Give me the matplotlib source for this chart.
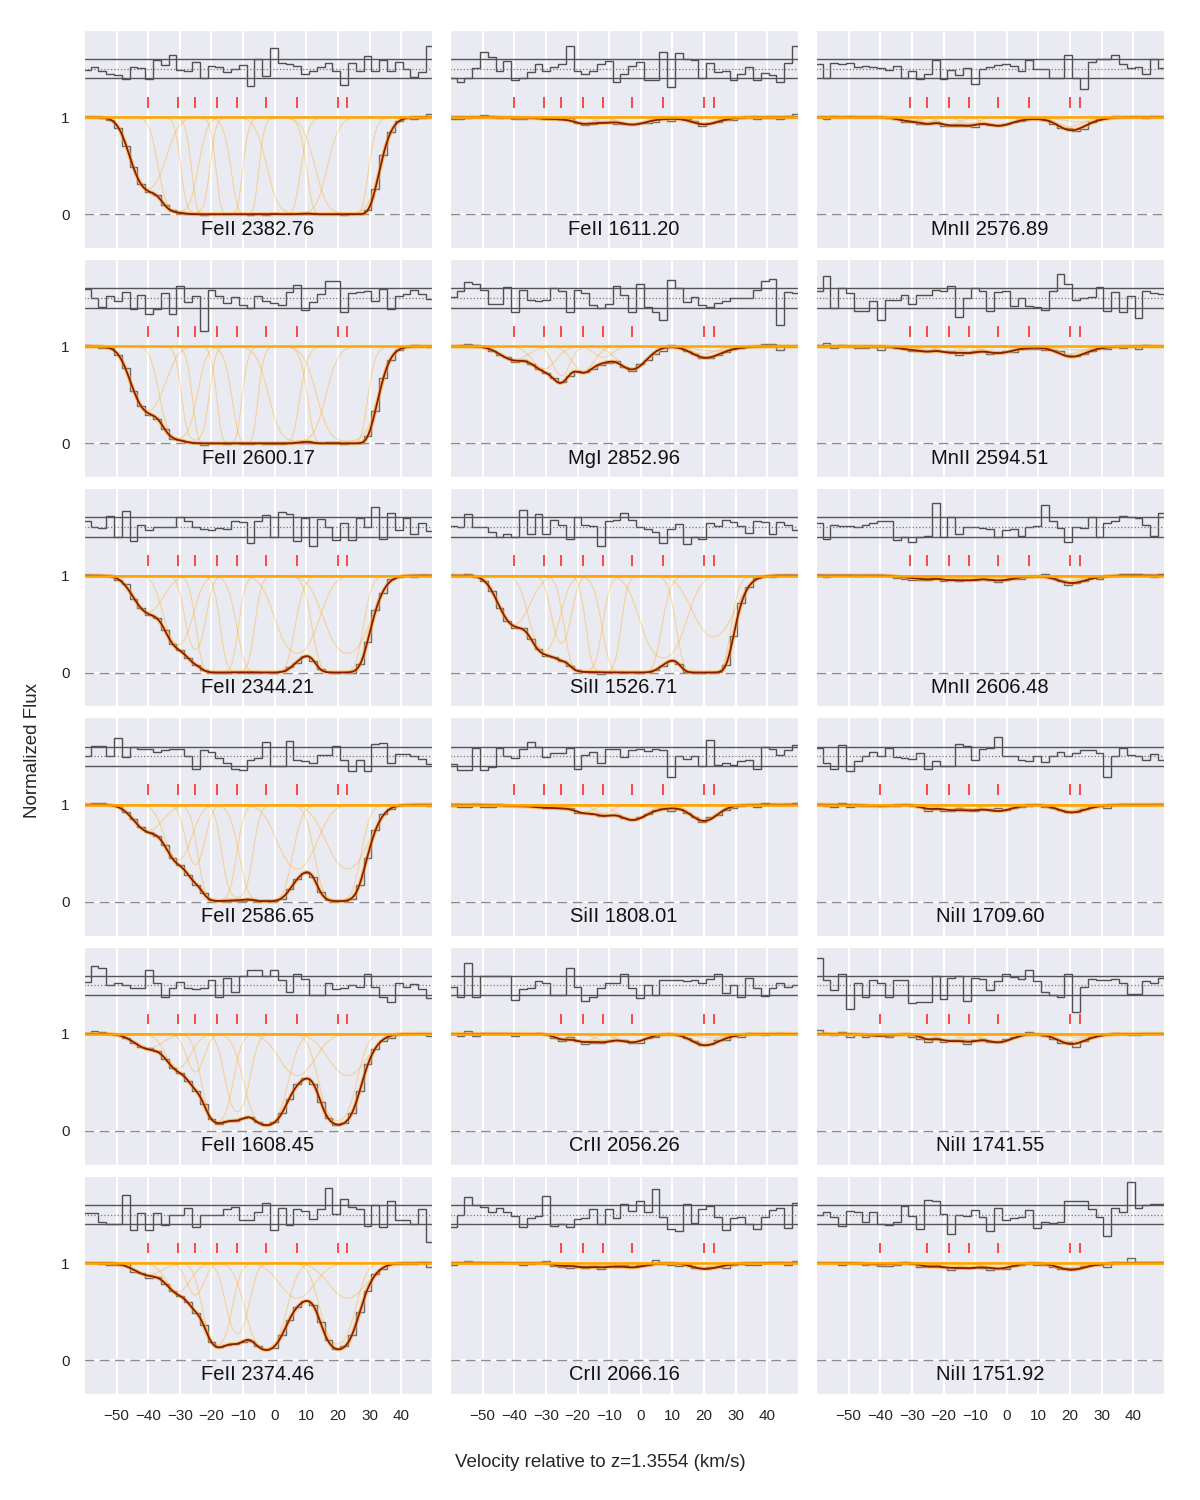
import numpy as np
import matplotlib
matplotlib.use('Agg')
import matplotlib.pyplot as plt
import seaborn as sns

sns.set_style('darkgrid')
plt.rcParams['font.family'] = ['Liberation Sans', 'DejaVu Sans']
plt.rcParams['grid.linewidth'] = 1.4

# velocity components of the fit (km/s) and their Doppler widths
comp_v = [-40.0, -30.5, -25.1, -18.2, -11.8, -2.8, 7.1, 19.9, 23.0]
comp_b = [6.0, 5.0, 3.5, 4.5, 4.0, 6.0, 7.0, 5.5, 7.5]

# central optical depth of each component, given at a reference line of each ion
tau_feii = [0.13, 0.35, 0.40, 1.90, 1.30, 2.20, 0.45, 1.80, 0.45]   # FeII 2374.46
tau_mgi = [0.15, 0.26, 0.36, 0.30, 0.12, 0.27, 0.0, 0.08, 0.05]     # MgI 2852.96
tau_mnii = [0.0, 0.04, 0.05, 0.08, 0.07, 0.09, 0.015, 0.10, 0.05]   # MnII 2576.89
tau_siii = [0.70, 1.50, 1.20, 4.50, 5.00, 9.00, 1.90, 9.00, 1.00]   # SiII 1526.71
tau_crii = [0.0, 0.0, 0.05, 0.08, 0.07, 0.09, 0.0, 0.09, 0.04]      # CrII 2056.26
tau_niii = [0.02, 0.0, 0.05, 0.07, 0.065, 0.09, 0.0, 0.08, 0.035]   # NiII 1741.55

# ion -> (component taus, reference wavelength, reference oscillator strength)
ions = {
    'FeII': (tau_feii, 2374.46, 0.0313),
    'MgI': (tau_mgi, 2852.96, 1.83),
    'MnII': (tau_mnii, 2576.89, 0.361),
    'SiII': (tau_siii, 1526.71, 0.133),
    'CrII': (tau_crii, 2056.26, 0.103),
    'NiII': (tau_niii, 1741.55, 0.0427),
}

# panels, row by row: ion, rest wavelength, oscillator strength
panel_ion = ['FeII', 'FeII', 'MnII',
             'FeII', 'MgI', 'MnII',
             'FeII', 'SiII', 'MnII',
             'FeII', 'SiII', 'NiII',
             'FeII', 'CrII', 'NiII',
             'FeII', 'CrII', 'NiII']
panel_wave = [2382.76, 1611.20, 2576.89,
              2600.17, 2852.96, 2594.51,
              2344.21, 1526.71, 2606.48,
              2586.65, 1808.01, 1709.60,
              1608.45, 2056.26, 1741.55,
              2374.46, 2066.16, 1751.92]
panel_f = [0.320, 0.0016, 0.361,
           0.239, 1.83, 0.280,
           0.114, 0.133, 0.198,
           0.0691, 0.00208, 0.0324,
           0.0577, 0.103, 0.0427,
           0.0313, 0.0512, 0.0277]

# normalised residuals (data - model) / error, per pixel, per panel
r_fe2382 = [-0.1, 0.2, -0.2, -0.5, -0.6, -1.1, 0.2, 0.1, -1.1, 0.9,
            0.4, 1.4, -0.1, -0.2, 0.7, -1.0, 0.3, 0.2, -0.3, 0.0,
            0.4, -1.8, 1.0, -0.7, 2.1, 0.6, 0.5, 0.3, -0.5, -0.2,
            0.2, 0.6, -0.2, -1.7, 0.6, -0.2, 1.3, -0.2, 0.9, -0.2,
            0.7, 0.0, -0.8, -0.3, 2.3]
r_fe1611 = [-1.0, -1.4, -0.9, 0.1, 1.7, 1.2, -0.2, 0.8, -1.2, -0.9,
            -0.3, 0.5, -0.2, 0.2, 0.5, 2.3, -0.2, -0.5, -0.2, 0.5,
            0.8, -1.4, -0.5, 0.3, 0.7, -1.2, -1.2, 1.7, -1.9, 1.6,
            1.0, 0.9, -1.0, 0.6, -0.3, -0.2, -1.2, -0.5, 0.2, -1.2,
            -0.4, -0.6, -1.4, 0.6, 2.3]
r_mn2576 = [0.5, -1.0, 0.6, 0.5, 0.6, 0.2, 0.3, 0.2, 0.1, -0.1,
            0.3, -0.9, -0.2, -1.1, -0.5, 0.9, -1.1, -0.1, -0.6, 0.1,
            -1.6, 0.0, 0.2, 0.4, 0.5, 0.3, -0.2, 0.9, 0.0, 0.0,
            -0.9, -1.0, 1.4, -0.9, -2.1, 0.7, 1.0, 1.0, 1.4, 0.5,
            0.1, 0.2, -0.5, 1.0, 0.1]
r_fe2600 = [0.9, 0.0, -0.9, 0.2, -0.3, 0.6, -1.1, 0.3, -1.7, -1.1,
            0.5, -1.7, 1.2, -0.4, 0.2, -3.4, 0.8, 0.2, -0.5, 0.1,
            -0.7, -1.0, 0.2, -0.3, -0.5, -0.7, 0.6, 1.3, -1.2, -0.4,
            0.4, 1.7, 1.7, -1.5, 0.5, 0.6, 0.7, -0.3, 0.9, -1.1,
            0.2, 0.4, 0.8, 0.4, -0.1]
r_mg2852 = [0.1, 0.7, 1.6, 1.4, 0.8, -0.6, -0.6, 1.1, -1.4, 0.8,
            -0.2, -0.3, -0.2, 1.0, 0.7, -1.5, 0.8, 0.5, -0.7, -1.0,
            -0.6, 1.2, 0.3, -1.4, 1.4, -0.9, -1.4, -2.3, 1.8, 1.0,
            -0.4, 0.1, -0.7, -0.9, -0.5, -0.3, 0.0, 0.0, 0.0, 0.8,
            1.7, 2.0, -2.8, 0.6, 0.5]
r_mn2594 = [0.7, 2.3, -1.0, 1.0, 0.5, -1.3, -1.3, -0.3, -2.3, -0.2,
            -0.2, 0.3, -0.6, 0.3, 0.3, 0.8, 0.7, 1.2, -2.0, 0.0,
            1.0, 0.7, -1.3, 0.6, 0.7, -0.8, 0.0, -0.8, -0.9, -1.2,
            0.7, 2.5, 1.4, -0.2, 0.0, 0.1, 1.1, -1.3, 0.6, -1.4,
            0.2, -2.1, 0.7, 0.5, 0.4]
r_fe2344 = [0.6, 0.0, -0.1, 1.1, -1.0, 1.7, -1.4, 0.2, -0.3, 0.0,
            0.0, 0.0, 1.0, 0.6, 0.0, -0.2, -0.3, -0.1, -0.2, 0.6,
            0.5, -1.6, 0.6, 1.2, -1.0, 1.6, 1.3, -1.4, 0.9, -2.0,
            0.8, 0.0, -1.3, 0.4, -1.3, 0.9, 0.0, 2.1, -1.2, 1.5,
            -0.3, 0.9, -0.7, 0.4, -0.4]
r_si1526 = [0.1, 0.0, 1.3, 0.0, 0.0, -0.5, -1.0, -0.7, -1.0, 1.8,
            -0.7, 1.3, -0.7, 0.7, 0.2, -1.2, 1.0, 0.2, 0.1, -2.0,
            0.6, 0.7, 1.5, 0.7, 0.0, -0.2, -0.5, -1.6, -0.2, 0.3,
            -1.7, -1.0, -1.2, 0.4, 0.1, 0.7, 0.5, 0.1, -0.6, 0.6,
            0.5, -0.7, 0.5, 0.2, -0.3]
r_mn2606 = [0.4, -1.2, 0.2, 0.1, 0.1, 0.0, 0.2, 0.4, 0.6, 0.6,
            -1.3, -1.0, -1.5, -1.0, -0.9, 2.5, -1.0, 1.0, -0.7, 0.0,
            0.0, -0.1, -0.2, -1.0, -0.3, -0.2, -0.9, 0.0, 0.1, 2.3,
            0.6, -0.1, -1.5, 0.0, -0.1, 1.0, -1.0, 0.4, 0.6, 1.1,
            1.0, 0.9, 0.2, -0.9, 1.5]
r_fe2586 = [0.0, 1.1, 1.1, 0.0, 1.9, -0.1, 1.0, 0.8, 0.8, 0.4,
            0.6, 0.8, 0.8, 0.0, -1.3, 0.6, 0.4, -0.2, -0.7, -1.3,
            -1.4, -0.4, -0.2, 1.5, -1.0, -1.0, 1.6, -0.4, -0.5, -0.7,
            0.1, 0.1, 1.1, -0.4, -1.5, -0.4, -1.5, 1.3, 1.4, -0.7,
            0.2, 0.2, 0.0, -0.3, -0.8]
r_si1808 = [-0.8, -1.4, -1.4, 0.9, -1.4, -1.1, 0.9, 0.0, -0.2, 0.8,
            1.5, 1.0, -0.1, 0.3, 0.3, 0.9, -1.3, 0.1, 0.4, -0.7,
            0.8, 0.8, -0.1, 0.6, 0.7, 0.5, 0.7, 0.6, -2.1, 0.0,
            -0.3, 0.0, -1.0, 1.7, -0.9, -0.7, -0.9, -0.5, -0.4, -1.3,
            1.0, 0.7, 0.1, 0.6, 1.2]
r_ni1709 = [0.9, -0.7, -1.3, 1.2, -1.5, -0.5, 0.0, 0.4, 0.0, 0.9,
            -0.1, -0.2, -0.3, 0.3, -1.3, -0.5, -1.0, -1.0, 1.3, 1.1,
            -0.4, 0.8, 0.9, 2.0, 0.0, 0.0, -0.4, -0.5, 0.0, -0.6,
            0.0, 0.4, 0.0, 0.3, 0.6, 0.6, 0.3, -2.1, 0.0, 0.9,
            0.1, 0.0, -0.4, 0.2, -0.4]
r_fe1608 = [0.4, 2.0, 1.8, 0.0, 0.3, 0.0, -0.3, -0.3, 1.6, 0.3,
            -1.2, -0.3, 0.4, -0.3, -0.4, -0.3, 0.6, -1.2, 0.8, -0.7,
            1.0, 1.6, 1.6, 1.0, 1.6, 0.6, -0.7, 1.2, 0.7, -1.0,
            -1.0, 0.3, -0.4, -0.3, 0.0, -0.2, 1.2, -0.2, -1.2, -1.7,
            0.3, -0.2, 0.1, -0.4, -1.3]
r_cr2056 = [-0.2, -1.2, 2.3, -1.2, 1.0, 1.0, 1.0, 1.0, -1.5, -0.4,
            -0.3, 0.5, 0.3, -1.0, -1.0, 1.8, -0.2, -1.6, -1.2, -0.3,
            0.2, 0.3, 1.2, -0.3, -1.3, 0.0, -1.0, 0.6, 0.6, 0.6,
            0.5, 0.6, 0.3, 0.7, 1.2, -0.8, 0.0, -1.2, 0.8, -0.3,
            -1.1, -0.3, 0.3, -0.2, 0.0]
r_ni1741 = [2.8, 0.6, -0.5, 1.2, -2.4, 0.3, -1.2, 0.6, 0.3, -1.2,
            0.6, 0.6, -1.8, -1.7, -1.7, 1.0, -1.4, 0.8, 1.0, -1.6,
            0.8, 0.7, -0.5, 0.5, 1.2, 0.9, 0.7, 1.6, 0.5, -0.7,
            -1.0, -1.2, 1.2, -2.7, -0.2, 0.7, 0.6, 0.6, 0.7, 0.2,
            -0.9, -0.9, 0.5, 0.3, 0.8]
r_fe2374 = [0.2, 0.2, -0.8, -1.0, -1.0, 2.0, -1.6, 0.2, -1.6, 0.2,
            -1.1, 0.0, 0.0, 0.7, -1.3, 0.0, 0.0, 0.0, 0.6, 0.8,
            -0.6, -0.6, 0.3, 1.2, -1.6, 0.7, -1.1, 0.6, 0.4, -0.5,
            0.6, 2.7, 0.1, 1.6, 0.8, 0.6, -1.2, 1.0, -1.3, 1.4,
            -0.6, -0.6, -1.0, 0.6, -2.8]
r_cr2066 = [-1.3, 0.0, 1.8, 1.0, 0.8, 0.3, 0.7, 0.3, -0.1, -1.3,
            -0.4, -0.1, 1.9, -1.2, -1.0, -1.3, -0.5, -0.4, 0.6, -1.0,
            0.6, -0.4, 1.1, 0.4, 1.4, 0.3, 2.6, -0.3, -1.5, -1.7,
            1.1, -0.9, 0.6, 0.9, -0.3, -1.6, -0.4, -0.3, -1.0, -1.5,
            -0.3, 0.5, 0.7, -1.4, 1.2]
r_ni1751 = [0.0, 0.3, -0.3, -1.2, 0.4, 0.3, -0.8, 0.3, -1.0, -1.1,
            -0.8, 0.9, -0.1, -1.5, 1.5, 1.4, 0.1, -2.0, 0.0, -0.1,
            0.5, -0.3, -1.7, 0.7, -0.6, -0.4, -0.3, 0.5, -1.4, -0.8,
            -0.9, -0.8, 1.4, 1.4, 1.4, 0.6, -0.3, -2.2, 0.7, 0.3,
            3.4, 0.7, 1.0, 1.1, 1.1]

residuals = [r_fe2382, r_fe1611, r_mn2576,
             r_fe2600, r_mg2852, r_mn2594,
             r_fe2344, r_si1526, r_mn2606,
             r_fe2586, r_si1808, r_ni1709,
             r_fe1608, r_cr2056, r_ni1741,
             r_fe2374, r_cr2066, r_ni1751]

# spectrum pixel grid
pix_left = -60.67
pix_width = 2.465
n_pix = 45
edges = pix_left + pix_width * np.arange(n_pix + 1)
centers = 0.5 * (edges[:-1] + edges[1:])

v = np.linspace(-62, 52, 900)
res_zero, res_scale = 1.5, 0.1


def component_taus(vel, ion, wave, f):
    taus, wref, fref = ions[ion]
    scale = f * wave / (fref * wref)
    out = []
    for vc, b, t in zip(comp_v, comp_b, taus):
        out.append(scale * t * np.exp(-((vel - vc) / b) ** 2))
    return np.array(out), np.array(taus) > 0


fig, axes = plt.subplots(6, 3, figsize=(12, 15), dpi=100, sharex=True, sharey=True)
fig.subplots_adjust(left=0.07, right=0.97, top=0.98, bottom=0.0707,
                    wspace=0.052, hspace=0.0505)

for k, ax in enumerate(axes.flat):
    ion, wave, f = panel_ion[k], panel_wave[k], panel_f[k]
    r = np.array(residuals[k])

    taus, used = component_taus(v, ion, wave, f)
    model = np.exp(-taus.sum(axis=0))
    taus_pix, _ = component_taus(centers, ion, wave, f)
    model_pix = np.exp(-taus_pix.sum(axis=0))
    err = 0.006 + 0.008 * model_pix
    data = model_pix + r * err

    # residual strip
    ax.axhline(res_zero + res_scale, color='#555555', lw=1)
    ax.axhline(res_zero - res_scale, color='#555555', lw=1)
    ax.axhline(res_zero, color='#777777', lw=0.9, ls=':')
    ax.stairs(res_zero + res_scale * r, edges, color='#505050', lw=1)

    # component ticks
    ax.vlines(np.array(comp_v)[used], 1.1, 1.21, color='#ff2a2a', lw=1.2)

    ax.axhline(0, color='#8c8c8c', lw=1, dashes=(7, 4))
    ax.stairs(data, edges, color='#6a6a6a', lw=1)
    for i in np.where(used)[0]:
        ax.plot(v, np.exp(-taus[i]), color='orange', lw=0.8, alpha=0.35)
    ax.plot(v, model, color='orange', lw=3, alpha=0.5)
    ax.plot(v, model, color='#8b1a0a', lw=1.3)
    ax.axhline(1, color='orange', lw=1.8)

    ax.text(0.5, 0.087, f'{ion} {wave:.2f}', transform=ax.transAxes,
            ha='center', va='center', fontsize=14.5, color='#111111')

    ax.set_xlim(-60.3, 49.7)
    ax.set_ylim(-0.35, 1.9)
    ax.set_xticks(range(-50, 41, 10))
    ax.set_yticks([0, 1])
    ax.tick_params(labelsize=11, colors='#262626', pad=7)

fig.text(0.5, 0.0247, 'Velocity relative to z=1.3554 (km/s)', ha='center',
         va='center', fontsize=13.5, color='#262626')
fig.text(0.027, 0.5, 'Normalized Flux', rotation=90, ha='center',
         va='center', fontsize=13.5, color='#262626')

fig.savefig('out.png', dpi=100)
